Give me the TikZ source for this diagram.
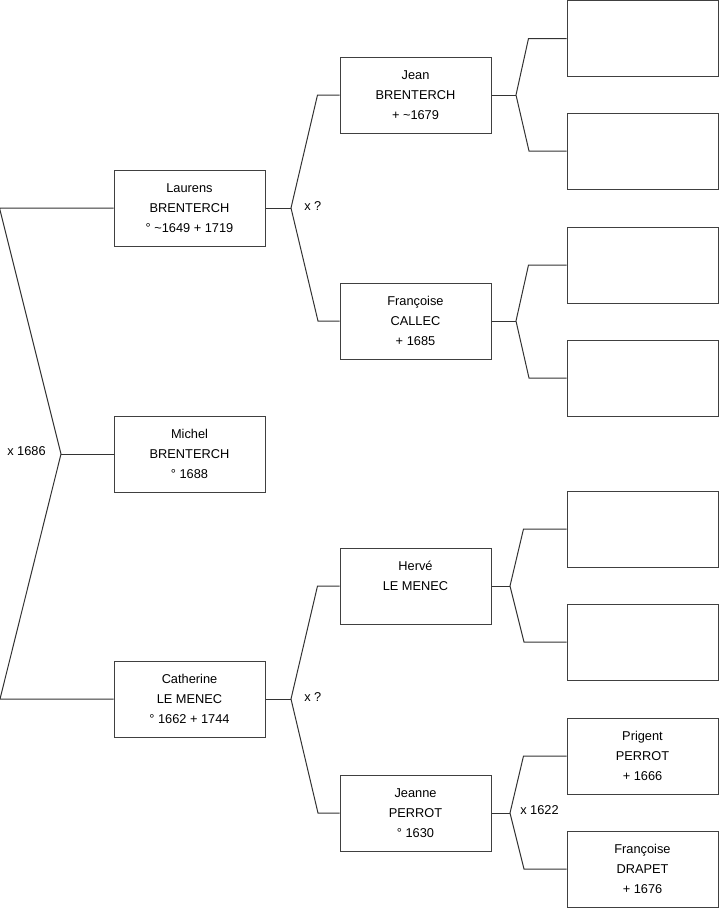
\documentclass[tikz,border=0pt]{standalone}
\usepackage{fontspec}
\setmainfont{Liberation Sans}
\begin{document}
\begin{tikzpicture}[x=0.75pt, y=-0.75pt,
    person/.style={draw=black!75, line width=0.75pt, minimum width=113.25pt, minimum height=57pt,
      inner sep=0pt, align=center, font=\fontsize{9.6}{15}\selectfont},
    link/.style={draw=black!80, line width=0.75pt},
    union/.style={anchor=west, inner sep=0pt, font=\fontsize{9.6}{11}\selectfont}]
    \useasboundingbox (0,0) rectangle (719,908);
    % enfant et parents
    \node[person] (michel) at (189.5,454) {Michel\\BRENTERCH\\° 1688};
    \node[person] (laurens) at (189.5,208) {Laurens\\BRENTERCH\\° \textasciitilde1649 + 1719};
    \node[person] (catherine) at (189.5,699) {Catherine\\LE MENEC\\° 1662 + 1744};
    % grands-parents
    \node[person] (jean) at (415.5,95) {Jean\\BRENTERCH\\+ \textasciitilde1679};
    \node[person] (callec) at (415.5,321) {Françoise\\CALLEC\\+ 1685};
    \node[person] (herve) at (415.5,586) {Hervé\\LE MENEC\\~};
    \node[person] (jeanne) at (415.5,813) {Jeanne\\PERROT\\° 1630};
    % arrière-grands-parents
    \foreach \y [count=\i] in {38.5,151,265,378,529,642}
        \node[person] (inconnu\i) at (642.5,\y) {};
    \node[person] (prigent) at (642.5,756) {Prigent\\PERROT\\+ 1666};
    \node[person] (drapet) at (642.5,869) {Françoise\\DRAPET\\+ 1676};
    % mariages
    \coordinate (m0) at (61,454);
    \draw[link] (michel.west) -- (m0);
    \draw[link] (laurens.west) -- ++(-114,0) -- (m0) -- ++(-61,245) -- (catherine.west);
    \node[union] (x0) at (7,451) {x 1686};
    \coordinate (m1) at (291,208);
    \draw[link] (laurens.east) -- (m1);
    \draw[link] (jean.west) -- ++(-22,0) -- (m1) -- ++(27,113) -- (callec.west);
    \node[union] (x1) at (304,206) {x ?};
    \coordinate (m2) at (291,699);
    \draw[link] (catherine.east) -- (m2);
    \draw[link] (herve.west) -- ++(-22,0) -- (m2) -- ++(27,114) -- (jeanne.west);
    \node[union] (x2) at (304,697) {x ?};
    \coordinate (m3) at (516,95);
    \draw[link] (jean.east) -- (m3);
    \draw[link] (inconnu1.west) -- ++(-38,0) -- (m3) -- ++(13,56) -- (inconnu2.west);
    \coordinate (m4) at (516,321);
    \draw[link] (callec.east) -- (m4);
    \draw[link] (inconnu3.west) -- ++(-38,0) -- (m4) -- ++(13,57) -- (inconnu4.west);
    \coordinate (m5) at (510,586);
    \draw[link] (herve.east) -- (m5);
    \draw[link] (inconnu5.west) -- ++(-43,0) -- (m5) -- ++(14,56) -- (inconnu6.west);
    \coordinate (m6) at (510,813);
    \draw[link] (jeanne.east) -- (m6);
    \draw[link] (prigent.west) -- ++(-43,0) -- (m6) -- ++(14,56) -- (drapet.west);
    \node[union] (x6) at (520,810) {x 1622};
\end{tikzpicture}
\end{document}
